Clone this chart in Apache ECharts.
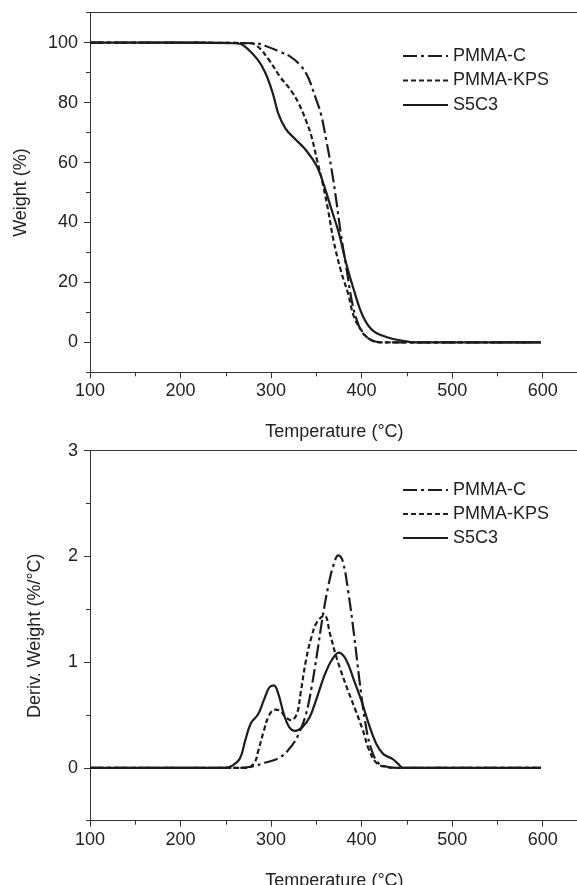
<!DOCTYPE html>
<html>
<head>
<meta charset="utf-8">
<script src="https://cdn.jsdelivr.net/npm/echarts@6/dist/echarts.min.js"></script>
<style>
html,body{margin:0;padding:0;background:#fff;}
#chart{width:577px;height:885px;}
</style>
</head>
<body>
<div id="chart"></div>
<script>
// ---------- Data ----------
const seriesNames = ['PMMA-C', 'PMMA-KPS', 'S5C3'];
const xTickLabels = [100, 200, 300, 400, 500, 600];
const xMinorTicks = [150, 250, 350, 450, 550];
const tgaTickLabels = [0, 20, 40, 60, 80, 100];
const tgaMinorTicks = [-10, 10, 30, 50, 70, 90, 110];
const dtgTickLabels = [0, 1, 2, 3];
const dtgMinorTicks = [-0.5, 0.5, 1.5, 2.5];

// TGA (Weight %)
const tgaTempC   = [100, 200, 282, 294, 310, 322, 332.5, 340.6, 348.8, 355, 361, 367, 372, 377, 383, 389, 394.7, 401.6, 411.8, 424, 500, 598];
const tgaWeightC = [100, 100, 99.8, 98.9, 96.9, 95.2, 92.4, 88.6, 81.9, 76.3, 67.4, 57.4, 47.4, 36.3, 25.2, 14.1, 7.4, 3, 0.6, 0, 0, 0];
const tgaTempKPS   = [100, 200, 277, 285.8, 298, 310, 322, 330.5, 338.6, 344.7, 350.8, 357, 363, 369, 377, 385, 391.5, 399.6, 407.7, 420, 500, 598];
const tgaWeightKPS = [100, 100, 99.8, 98.6, 94.1, 88.6, 84, 79.7, 74, 68.6, 60.8, 53, 44.1, 34, 24, 16.3, 8.6, 4.1, 1.3, 0, 0, 0];
const tgaTempS5C3   = [100, 200, 261, 269.5, 285.8, 294, 302, 308, 316, 326, 338.6, 350.8, 359, 367, 375, 383, 391.5, 401.6, 411.8, 428, 444, 460, 598];
const tgaWeightS5C3 = [100, 100, 99.8, 99.1, 94.1, 89.7, 83, 76.3, 71.3, 68, 64.1, 58.6, 51.9, 44.1, 36.3, 26.3, 17.4, 8.6, 4.1, 1.7, 0.6, 0, 0];

// DTG (Deriv. Weight %/°C)
const dtgTempC  = [100, 261, 277.6, 294, 310, 322, 330.5, 338.6, 344.7, 350.8, 357, 363, 369, 374.4, 379, 385, 391.5, 397.6, 403.7, 409.8, 418, 428, 440, 598];
const dtgDerivC = [0, 0, 0.01, 0.05, 0.1, 0.2, 0.32, 0.51, 0.76, 1.08, 1.43, 1.71, 1.92, 2.01, 1.96, 1.68, 1.27, 0.83, 0.45, 0.2, 0.05, 0.01, 0, 0];
const dtgTempKPS  = [100, 273.6, 281.7, 285.8, 292, 298, 304, 310, 316, 322, 328.5, 332.5, 338.6, 344.7, 350.8, 359, 365, 371, 377, 385, 393.5, 401.6, 407.7, 416, 426, 440, 598];
const dtgDerivKPS = [0, 0, 0.05, 0.16, 0.35, 0.5, 0.55, 0.54, 0.48, 0.45, 0.51, 0.7, 1.02, 1.24, 1.38, 1.44, 1.27, 1.08, 0.92, 0.73, 0.54, 0.35, 0.18, 0.05, 0.01, 0, 0];
const dtgTempS5C3  = [100, 249, 257, 265.4, 271.5, 277.6, 285.8, 292, 298, 303, 308, 314, 320, 326.4, 334.6, 342.7, 350.8, 359, 367, 375, 383, 391.5, 399.6, 407.7, 416, 424, 434, 440, 446, 598];
const dtgDerivS5C3 = [0, 0, 0.02, 0.085, 0.26, 0.42, 0.51, 0.64, 0.76, 0.78, 0.70, 0.51, 0.385, 0.35, 0.385, 0.48, 0.67, 0.875, 1.02, 1.09, 1.02, 0.83, 0.64, 0.42, 0.23, 0.13, 0.085, 0.04, 0, 0];

// ---------- Helpers ----------
const zip = (xs, ys) => xs.map((x, i) => [x, ys[i]]);
const FONT = 'Liberation Sans, Arial, sans-serif';
const AXIS_COLOR = '#333';
const TEXT_COLOR = '#222';
const LINE_COLOR = '#1c1c1c';
const X_MAX = 640;
const lineTypes = {
  'PMMA-C': [14, 4, 3, 4],
  'PMMA-KPS': [5, 3],
  'S5C3': 'solid'
};

function mainX(gridIndex, gap) {
  return {
    gridIndex, type: 'value', min: 100, max: X_MAX, position: 'bottom',
    axisLine: { show: true, onZero: false, lineStyle: { color: AXIS_COLOR, width: 1 } },
    axisTick: { show: true, customValues: xTickLabels, length: 6, lineStyle: { color: AXIS_COLOR } },
    axisLabel: { customValues: xTickLabels, margin: 10, fontSize: 18, fontFamily: FONT, color: TEXT_COLOR },
    splitLine: { show: false },
    name: 'Temperature (°C)', nameLocation: 'middle', nameGap: gap,
    nameTextStyle: { fontSize: 18, fontFamily: FONT, color: TEXT_COLOR }
  };
}
function minorX(gridIndex) {
  return {
    gridIndex, type: 'value', min: 100, max: X_MAX, position: 'bottom',
    axisLine: { show: false, onZero: false },
    axisTick: { show: true, customValues: xMinorTicks, length: 4, lineStyle: { color: AXIS_COLOR } },
    axisLabel: { show: false }, splitLine: { show: false }
  };
}
function topFrame(gridIndex) {
  return {
    gridIndex, type: 'value', min: 100, max: X_MAX, position: 'top',
    axisLine: { show: true, onZero: false, lineStyle: { color: AXIS_COLOR, width: 1 } },
    axisTick: { show: false }, axisLabel: { show: false }, splitLine: { show: false }
  };
}
function mainY(gridIndex, min, max, labels, name, gap) {
  return {
    gridIndex, type: 'value', min, max, position: 'left',
    axisLine: { show: true, onZero: false, lineStyle: { color: AXIS_COLOR, width: 1 } },
    axisTick: { show: true, customValues: labels, length: 6, lineStyle: { color: AXIS_COLOR } },
    axisLabel: { customValues: labels, margin: 12, fontSize: 18, fontFamily: FONT, color: TEXT_COLOR },
    splitLine: { show: false },
    name, nameLocation: 'middle', nameGap: gap,
    nameTextStyle: { fontSize: 18, fontFamily: FONT, color: TEXT_COLOR }
  };
}
function minorY(gridIndex, min, max, ticks) {
  return {
    gridIndex, type: 'value', min, max, position: 'left',
    axisLine: { show: false, onZero: false },
    axisTick: { show: true, customValues: ticks, length: 4, lineStyle: { color: AXIS_COLOR } },
    axisLabel: { show: false }, splitLine: { show: false }
  };
}
function lineSeries(name, data, xi, yi) {
  return {
    name, type: 'line', xAxisIndex: xi, yAxisIndex: yi, data,
    symbol: 'none', smooth: 0.4,
    lineStyle: { color: LINE_COLOR, width: 2.2, type: lineTypes[name] },
    itemStyle: { color: LINE_COLOR },
    z: 3
  };
}
function legendAt(top, gap) {
  return {
    data: seriesNames, orient: 'vertical', left: 397, top,
    itemWidth: 45, itemHeight: 18, itemGap: gap,
    itemStyle: { opacity: 0 },
    textStyle: { fontSize: 18, fontFamily: FONT, color: TEXT_COLOR, lineHeight: 18 },
    selectedMode: false
  };
}

const option = {
  animation: false,
  backgroundColor: '#fff',
  grid: [
    { left: 90, top: 12.7, width: 488.9, height: 359.6, show: false, outerBoundsMode: 'none', containLabel: false },
    { left: 90, top: 450.7, width: 488.9, height: 370, show: false, outerBoundsMode: 'none', containLabel: false }
  ],
  legend: [legendAt(42, 6.5), legendAt(476, 6)],
  xAxis: [mainX(0, 51), minorX(0), topFrame(0), mainX(1, 51), minorX(1), topFrame(1)],
  yAxis: [
    mainY(0, -10, 110, tgaTickLabels, 'Weight (%)', 60),
    minorY(0, -10, 110, tgaMinorTicks),
    mainY(1, -0.5, 3, dtgTickLabels, 'Deriv. Weight (%/°C)', 46),
    minorY(1, -0.5, 3, dtgMinorTicks)
  ],
  series: [
    lineSeries('PMMA-C', zip(tgaTempC, tgaWeightC), 0, 0),
    lineSeries('PMMA-KPS', zip(tgaTempKPS, tgaWeightKPS), 0, 0),
    lineSeries('S5C3', zip(tgaTempS5C3, tgaWeightS5C3), 0, 0),
    lineSeries('PMMA-C', zip(dtgTempC, dtgDerivC), 3, 2),
    lineSeries('PMMA-KPS', zip(dtgTempKPS, dtgDerivKPS), 3, 2),
    lineSeries('S5C3', zip(dtgTempS5C3, dtgDerivS5C3), 3, 2)
  ]
};

const chart = echarts.init(document.getElementById('chart'), null, { renderer: 'canvas' });
chart.setOption(option);
</script>
</body>
</html>
